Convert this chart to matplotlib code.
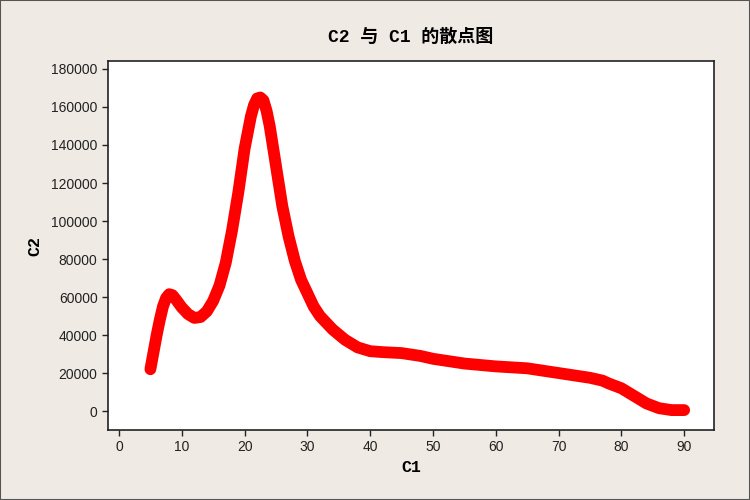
import matplotlib
matplotlib.use('Agg')
import matplotlib.pyplot as plt

# values
c1 = [5, 5.5, 6, 6.5, 7, 7.5, 8, 8.5, 9, 10, 11, 12, 13, 14, 15, 16, 17, 18, 19,
      20, 21, 21.5, 22, 22.5, 23, 23.5, 24, 25, 26, 27, 28, 29, 30, 31, 32, 34,
      36, 38, 40, 42, 45, 48, 50, 55, 60, 65, 67, 70, 75, 77, 78, 80, 82, 84,
      86, 88, 90]
c2 = [22000, 31000, 40000, 48000, 55000, 59500, 61500, 61000, 59000, 54500,
      51000, 49000, 49500, 52500, 58000, 66000, 78000, 95000, 115000, 138000,
      155000, 161000, 164500, 165000, 163500, 158000, 150000, 129000, 108000,
      92000, 79000, 69000, 62000, 55000, 50000, 43000, 37500, 33500, 31500,
      31000, 30500, 29000, 27500, 25000, 23500, 22500, 21500, 20000, 17500,
      16000, 14500, 12000, 8000, 4000, 1500, 500, 500]

xticks = list(range(0, 91, 10))
yticks = list(range(0, 180001, 20000))

bg = '#efebe4'
plt.rcParams['font.family'] = ['Liberation Sans', 'Noto Sans CJK SC']

fig = plt.figure(figsize=(7.5, 5), dpi=100, facecolor=bg)
ax = fig.add_axes([108/750, 1 - 430/500, (714-108)/750, (430-61)/500])
ax.set_facecolor('white')

ax.plot(c1, c2, color='#ff0000', lw=8.5,
        solid_capstyle='round', solid_joinstyle='round')

ax.set_xlim(-1.75, 94.75)
ax.set_ylim(-9970, 184200)
ax.set_xticks(xticks)
ax.set_yticks(yticks)
ax.tick_params(direction='out', length=4, width=1, labelsize=10, colors='#222222')
for s in ax.spines.values():
    s.set_linewidth(1.2)
    s.set_color('#222222')

ax.set_xlabel('C1', family=['Liberation Mono'], fontweight='bold', fontsize=12, labelpad=4)
ax.set_ylabel('C2', family=['Liberation Mono'], fontweight='bold', fontsize=12, labelpad=6)
ax.set_title('C2 与 C1 的散点图', family=['Liberation Mono', 'Noto Sans CJK SC'],
             fontweight='bold', fontsize=13, pad=14)

# thin dark frame at the image edges
fig.patches.append(plt.Rectangle((0, 0), 1, 1, transform=fig.transFigure,
                                 fill=False, edgecolor='#555555', lw=1.5))

plt.savefig('out.png', dpi=100, facecolor=bg)
